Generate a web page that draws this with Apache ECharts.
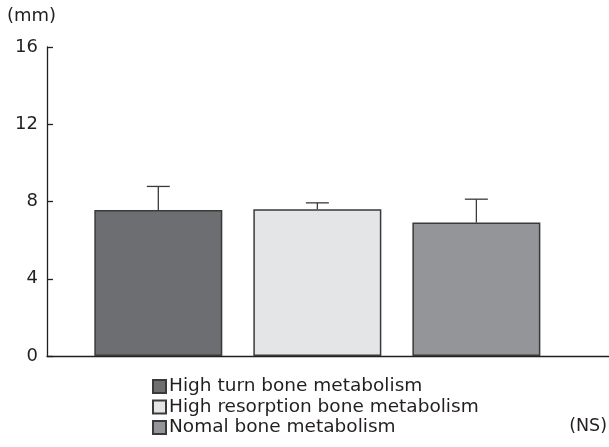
<!DOCTYPE html>
<html>
<head>
<meta charset="utf-8">
<script src="https://cdn.jsdelivr.net/npm/echarts@6/dist/echarts.min.js"></script>
<style>
html,body{margin:0;padding:0;background:#fff;}
#c{width:609px;height:447px;}
</style>
</head>
<body>
<div id="c"></div>
<script>
const categories = ['High turn bone metabolism', 'High resorption bone metabolism', 'Nomal bone metabolism'];
const means = [7.56, 7.60, 6.91];
const errUpper = [8.78, 7.93, 8.12];
const colors = ['#6d6e72', '#e4e5e6', '#949598'];
const yTicks = [0, 4, 8, 12, 16];

const FONT = 'DejaVu Sans';
const INK = '#231f20';

const chart = echarts.init(document.getElementById('c'), null, {renderer: 'canvas'});

const barSeries = categories.map((name, i) => ({
  name: name,
  type: 'bar',
  data: [[i, means[i]]],
  barWidth: 128,
  barGap: '-100%',
  itemStyle: {color: colors[i], borderColor: '#3a3a3a', borderWidth: 1.5},
  z: 2
}));

const errSeries = {
  type: 'custom',
  name: 'err',
  data: means.map((m, i) => [i, m, errUpper[i]]),
  z: 3,
  renderItem: function (params, api) {
    const x = api.value(0);
    const b = api.coord([x, api.value(1)]);
    const t = api.coord([x, api.value(2)]);
    const st = {stroke: '#3a3a3a', lineWidth: 1.3};
    return {
      type: 'group',
      children: [
        {type: 'line', shape: {x1: b[0], y1: b[1], x2: t[0], y2: t[1]}, style: st},
        {type: 'line', shape: {x1: t[0] - 11.5, y1: t[1], x2: t[0] + 11.5, y2: t[1]}, style: st}
      ]
    };
  }
};

chart.setOption({
  animation: false,
  backgroundColor: '#fff',
  textStyle: {fontFamily: FONT, color: INK},
  grid: {left: 47, right: 0, top: 47, bottom: 91, containLabel: false},
  title: [
    {text: '(mm)', left: 7, top: 7, padding: 0, textStyle: {fontFamily: FONT, fontSize: 18, fontWeight: 'normal', color: INK}},
    {text: '(NS)', right: 2, top: 417, padding: 0, textStyle: {fontFamily: FONT, fontSize: 17.5, fontWeight: 'normal', color: INK}}
  ],
  legend: {
    data: categories,
    orient: 'vertical',
    left: 152,
    top: 377,
    padding: 0,
    itemGap: 1.5,
    itemWidth: 13,
    itemHeight: 13,
    icon: 'rect',
    selectedMode: false,
    textStyle: {fontFamily: FONT, fontSize: 18.5, color: INK, padding: [0, 0, 0, -2], lineHeight: 18.5}
  },
  xAxis: {
    type: 'value',
    min: -0.7,
    max: 2.834,
    axisLine: {show: true, onZero: false, lineStyle: {color: INK, width: 1.3}},
    axisTick: {show: false},
    axisLabel: {show: false},
    splitLine: {show: false}
  },
  yAxis: {
    type: 'value',
    min: yTicks[0],
    max: yTicks[yTicks.length - 1],
    interval: 4,
    axisLine: {show: true, onZero: false, lineStyle: {color: INK, width: 1.3}},
    axisTick: {show: true, inside: true, length: 6, lineStyle: {color: INK, width: 1.3}},
    axisLabel: {fontFamily: FONT, fontSize: 18, color: INK, margin: 9},
    splitLine: {show: false}
  },
  series: barSeries.concat([errSeries])
});
</script>
</body>
</html>
